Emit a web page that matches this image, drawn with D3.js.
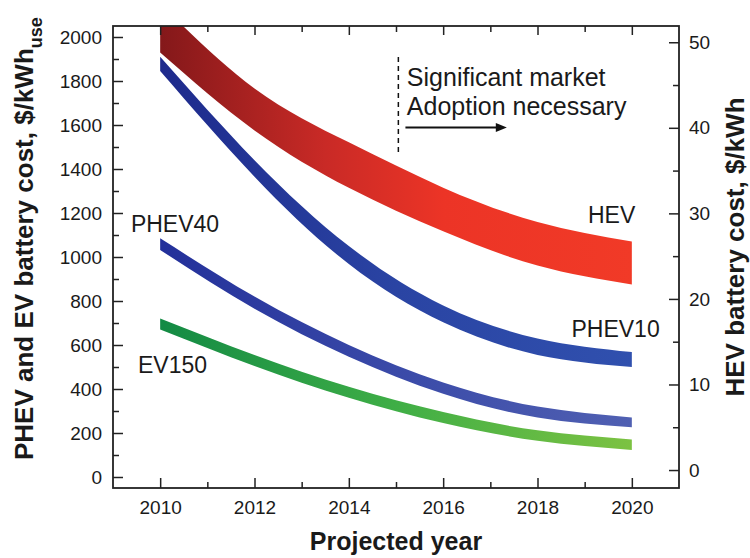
<!DOCTYPE html>
<html><head><meta charset="utf-8">
<script src="https://cdn.jsdelivr.net/npm/d3@7"></script>
<style>
body{margin:0;background:#fff}
text{font-family:"Liberation Sans",Arial,Helvetica,sans-serif;fill:#1a1a1a}
</style>
</head><body>
<svg id="chart" width="750" height="558"></svg>
<script>
// ---- data ----
const years = [2010, 2012, 2014, 2016, 2018, 2020];
// HEV band, right axis ($/kWh)
const hevUpper = [54.5, 44.6, 38.3, 33.0, 29.0, 26.7];
const hevLower = [48.8, 39.7, 33.0, 27.9, 23.9, 21.7];
// PHEV / EV bands, left axis ($/kWh_use)
const phev10Upper = [1910, 1440, 1050, 780, 630, 568];
const phev10Lower = [1845, 1365, 968, 703, 555, 500];
const phev40Upper = [1085, 820, 600, 430, 320, 271];
const phev40Lower = [1032, 765, 547, 378, 270, 226];
const ev150Upper = [721, 555, 410, 295, 212, 171];
const ev150Lower = [671, 505, 360, 245, 165, 123];

const xTicks = [2010, 2012, 2014, 2016, 2018, 2020];
const xMinorTicks = [2011, 2013, 2015, 2017, 2019];
const yLeftTicks = [0, 200, 400, 600, 800, 1000, 1200, 1400, 1600, 1800, 2000];
const yLeftMinor = [100, 300, 500, 700, 900, 1100, 1300, 1500, 1700, 1900];
const yRightTicks = [0, 10, 20, 30, 40, 50];
const yRightMinor = [5, 15, 25, 35, 45];

const seriesLabels = ["HEV", "PHEV10", "PHEV40", "EV150"];
const annotationLines = ["Significant market", "Adoption necessary"];

// ---- layout ----
const svg = d3.select("#chart");
const L = 113, R = 679, T = 26, B = 488;
const x = d3.scaleLinear().domain([2009, 2021]).range([L, R]);
const y = d3.scaleLinear().domain([-50, 2050]).range([B, T]);
const yR = d3.scaleLinear().domain([-2.1, 51.9]).range([B, T]);

const defs = svg.append("defs");
defs.append("clipPath").attr("id", "plotclip")
  .append("rect").attr("x", L).attr("y", T).attr("width", R - L).attr("height", B - T);

function grad(id, stops) {
  const g = defs.append("linearGradient").attr("id", id)
    .attr("gradientUnits", "userSpaceOnUse")
    .attr("x1", x(2010)).attr("x2", x(2020)).attr("y1", 0).attr("y2", 0);
  stops.forEach(s => g.append("stop").attr("offset", s[0]).attr("stop-color", s[1]));
}
grad("gHEV", [[0, "#84181a"], [0.35, "#c92a26"], [0.6, "#ec3426"], [1, "#f13a27"]]);
grad("gP10", [[0, "#1e2a8c"], [0.5, "#2a44a3"], [1, "#3050ae"]]);
grad("gP40", [[0, "#23309a"], [0.5, "#3a4aa8"], [1, "#5060b2"]]);
grad("gEV", [[0, "#138a44"], [0.5, "#3fae46"], [1, "#7cc242"]]);

function band(upper, lower, scale, fillId) {
  const data = years.map((yr, i) => ({ year: yr, u: upper[i], l: lower[i] }));
  const area = d3.area()
    .x(d => x(d.year)).y0(d => scale(d.l)).y1(d => scale(d.u))
    .curve(d3.curveNatural);
  svg.append("path").datum(data)
    .attr("clip-path", "url(#plotclip)")
    .attr("d", area).attr("fill", `url(#${fillId})`);
}
band(hevUpper, hevLower, yR, "gHEV");
band(phev10Upper, phev10Lower, y, "gP10");
band(phev40Upper, phev40Lower, y, "gP40");
band(ev150Upper, ev150Lower, y, "gEV");

// ---- axes (inward ticks) ----
const tickFont = "19px";
function styleAxis(g) {
  g.select(".domain").remove();
  g.selectAll(".tick line").attr("stroke", "#222").attr("stroke-width", 1.5);
  g.selectAll(".tick text").style("font-size", tickFont).attr("fill", "#1a1a1a");
}
svg.append("g").attr("transform", `translate(${L},0)`)
  .call(d3.axisLeft(y).tickValues(yLeftTicks).tickSize(-10).tickPadding(11).tickFormat(d3.format("d")))
  .call(styleAxis);
svg.append("g").attr("transform", `translate(${L},0)`)
  .call(d3.axisLeft(y).tickValues(yLeftMinor).tickSize(-6).tickFormat(""))
  .call(styleAxis);
svg.append("g").attr("transform", `translate(${R},0)`)
  .call(d3.axisRight(yR).tickValues(yRightTicks).tickSize(-10).tickPadding(10).tickFormat(d3.format("d")))
  .call(styleAxis);
svg.append("g").attr("transform", `translate(${R},0)`)
  .call(d3.axisRight(yR).tickValues(yRightMinor).tickSize(-6).tickFormat(""))
  .call(styleAxis);
svg.append("g").attr("transform", `translate(0,${B})`)
  .call(d3.axisBottom(x).tickValues(xTicks).tickSize(-10).tickPadding(13).tickFormat(d3.format("d")))
  .call(styleAxis);
svg.append("g").attr("transform", `translate(0,${B})`)
  .call(d3.axisBottom(x).tickValues(xMinorTicks).tickSize(-6).tickFormat(""))
  .call(styleAxis);
svg.append("g").attr("transform", `translate(0,${T})`)
  .call(d3.axisTop(x).tickValues(xTicks).tickSize(-9).tickFormat(""))
  .call(styleAxis);
svg.append("g").attr("transform", `translate(0,${T})`)
  .call(d3.axisTop(x).tickValues(xMinorTicks).tickSize(-6).tickFormat(""))
  .call(styleAxis);

svg.append("rect").attr("x", L).attr("y", T).attr("width", R - L).attr("height", B - T)
  .attr("fill", "none").attr("stroke", "#222").attr("stroke-width", 1.8);

// ---- axis titles ----
svg.append("text").attr("x", (L + R) / 2).attr("y", 550)
  .attr("text-anchor", "middle").style("font-size", "25px").style("font-weight", "bold")
  .text("Projected year");

const lt = svg.append("text").attr("transform", "translate(33,460) rotate(-90)")
  .attr("text-anchor", "start").style("font-size", "26px").style("font-weight", "bold");
lt.append("tspan").text("PHEV and EV battery cost, $/kWh");
lt.append("tspan").attr("dy", 9).style("font-size", "18px").text("use");

svg.append("text").attr("transform", "translate(744,247) rotate(-90)")
  .attr("text-anchor", "middle").style("font-size", "26px").style("font-weight", "bold")
  .text("HEV battery cost, $/kWh");

// ---- series labels ----
const labelPos = [
  { t: seriesLabels[0], xv: 2019.07, yv: yR.invert(223) },
  { t: seriesLabels[1], xv: 2018.72, yv: yR.invert(337) },
  { t: seriesLabels[2], xv: 2009.38, yv: yR.invert(231.7) },
  { t: seriesLabels[3], xv: 2009.53, yv: yR.invert(373.3) }
];
svg.selectAll("text.slabel").data(labelPos).enter().append("text")
  .attr("class", "slabel")
  .attr("x", d => x(d.xv)).attr("y", d => yR(d.yv))
  .style("font-size", "23px").text(d => d.t);

// ---- annotation ----
const dashYear = 2015.05, dashTop = 1909, dashBottom = 1477;
svg.append("line").attr("x1", x(dashYear)).attr("x2", x(dashYear))
  .attr("y1", y(dashTop)).attr("y2", y(dashBottom))
  .attr("stroke", "#111").attr("stroke-width", 1.5).attr("stroke-dasharray", "5,4");
const arrowY = y(1589), ax1 = x(2015.2), ax2 = x(2017.35);
svg.append("line").attr("x1", ax1).attr("x2", ax2 - 8).attr("y1", arrowY).attr("y2", arrowY)
  .attr("stroke", "#111").attr("stroke-width", 2);
svg.append("path")
  .attr("d", `M${ax2},${arrowY} L${ax2 - 11},${arrowY - 4.5} L${ax2 - 11},${arrowY + 4.5} Z`)
  .attr("fill", "#111");
svg.selectAll("text.ann").data(annotationLines).enter().append("text")
  .attr("class", "ann")
  .attr("x", x(2015.23))
  .attr("y", (d, i) => y(i === 0 ? 1777 : 1645))
  .style("font-size", "25px").text(d => d);
</script>
</body></html>
